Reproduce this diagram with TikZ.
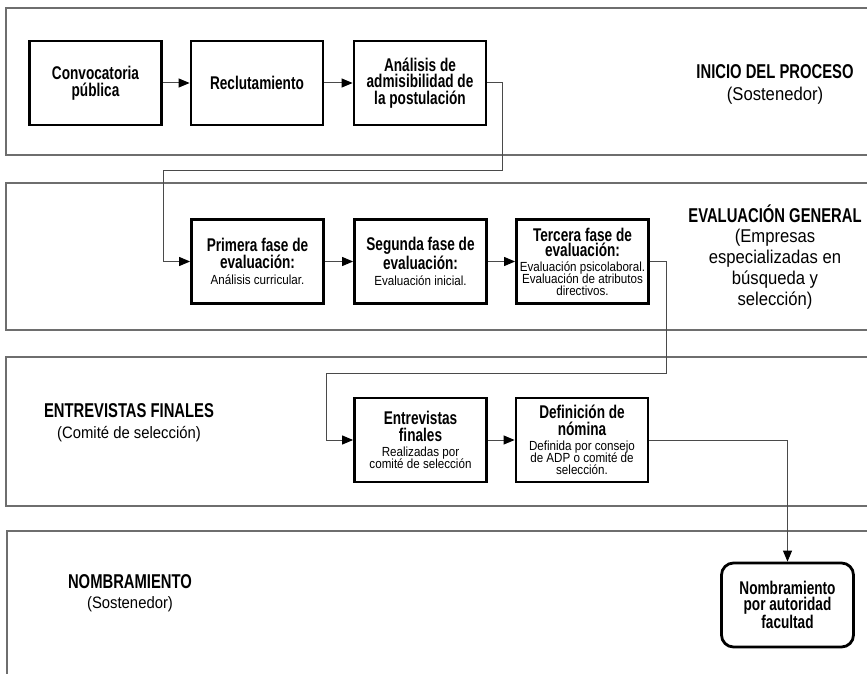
\documentclass[tikz,border=0pt]{standalone}
\usepackage{fontspec}
\setmainfont{Liberation Sans}
\newfontfamily\condfont{Liberation Sans}[FakeStretch=0.74]
\newfontfamily\condreg{Liberation Sans}[FakeStretch=0.88]
\newfontfamily\labreg{Liberation Sans}[FakeStretch=0.9]
\usetikzlibrary{arrows.meta}
\definecolor{panelgray}{HTML}{6E6E6E}
\definecolor{linegray}{HTML}{4A4A4A}
\newcommand\rgbox[1]{{\condreg\mdseries\fontsize{13.2}{12}\selectfont #1}}
\newcommand\rglab[1]{{\labreg\mdseries\fontsize{18.5}{21}\selectfont #1}}
\newcommand\rglabs[1]{{\labreg\mdseries\fontsize{16.5}{18}\selectfont #1}}
\begin{document}
\begin{tikzpicture}[x=1pt,y=-1pt,
  panel/.style={draw=panelgray,line width=1.3pt},
  stepbox/.style={draw=black,line width=2.8pt,minimum width=132pt,minimum height=84pt,inner sep=1pt,align=center,font=\condfont\bfseries\fontsize{18.4}{16.5}\selectfont},
  roundbox/.style={stepbox,rounded corners=12pt},
  conn/.style={draw=linegray,line width=1pt,-{Triangle[length=11pt,width=9pt,color=black]}},
  heading/.style={align=center,font=\condfont\bfseries\fontsize{20}{22}\selectfont},
]
\useasboundingbox (0,0) rectangle (867,674);
\begin{scope}
\clip (0,0) rectangle (867,674);
% panels
\draw[panel] (6,8) rectangle (900,155);
\draw[panel] (6,183) rectangle (900,330);
\draw[panel] (6,357) rectangle (900,506);
\draw[panel] (7,531) rectangle (900,720);
\end{scope}

% row 1
\node[stepbox] (conv) at (95.5,83) {Convocatoria\\pública};
\node[stepbox] (recl) at (257,83) {Reclutamiento};
\node[stepbox] (anal) at (420,83) {Análisis de\\admisibilidad de\\la postulación};
% row 2
\node[stepbox] (prim) at (257.5,261.5) {Primera fase de\\evaluación:\\\rgbox{Análisis curricular.}};
\node[stepbox] (segu) at (420.5,261.5) {Segunda fase de\\evaluación:\\\rgbox{Evaluación inicial.}};
\node[stepbox] (terc) at (582.5,261.5) {Tercera fase de\\[-1pt]evaluación:\\[-2pt]\rgbox{Evaluación psicolaboral.}\\[-4.5pt]\rgbox{Evaluación de atributos}\\[-4.5pt]\rgbox{directivos.}};
% row 3
\node[stepbox] (entr) at (420.5,440) {Entrevistas\\finales\\[-1.5pt]\rgbox{Realizadas por}\\[-4.5pt]\rgbox{comité de selección}};
\node[stepbox] (defi) at (582,440) {Definición de\\nómina\\[-1.5pt]\rgbox{Definida por consejo}\\[-4.5pt]\rgbox{de ADP o comité de}\\[-4.5pt]\rgbox{selección.}};
% row 4
\node[roundbox] (nomb) at (787.5,605) {Nombramiento\\por autoridad\\facultad};

% labels
\node[heading] (l1) at (775,84) {INICIO DEL PROCESO\\\rglab{(Sostenedor)}};
\node[heading] (l2) at (775,257) {EVALUACIÓN GENERAL\\[-2pt]\rglab{(Empresas}\\[-1pt]\rglab{especializadas en}\\[-1pt]\rglab{búsqueda y}\\[-1pt]\rglab{selección)}};
\node[heading] (l3) at (129,423) {ENTREVISTAS FINALES\\[-1pt]\rglabs{(Comité de selección)}};
\node[heading] (l4) at (130,593) {NOMBRAMIENTO\\[-2pt]\rglabs{(Sostenedor)}};

% connectors
\coordinate (j1) at (502,170);
\coordinate (j2) at (163,170);
\coordinate (j3) at (666,373);
\coordinate (j4) at (326,373);
\draw[conn] (conv) -- (recl);
\draw[conn] (recl) -- (anal);
\draw[conn] (anal.east) -| (j1) -- (j2) |- (prim.west);
\draw[conn] (prim) -- (segu);
\draw[conn] (segu) -- (terc);
\draw[conn] (terc.east) -| (j3) -- (j4) |- (entr.west);
\draw[conn] (entr) -- (defi);
\draw[conn] (defi.east) -| (nomb.north);
\end{tikzpicture}
\end{document}
